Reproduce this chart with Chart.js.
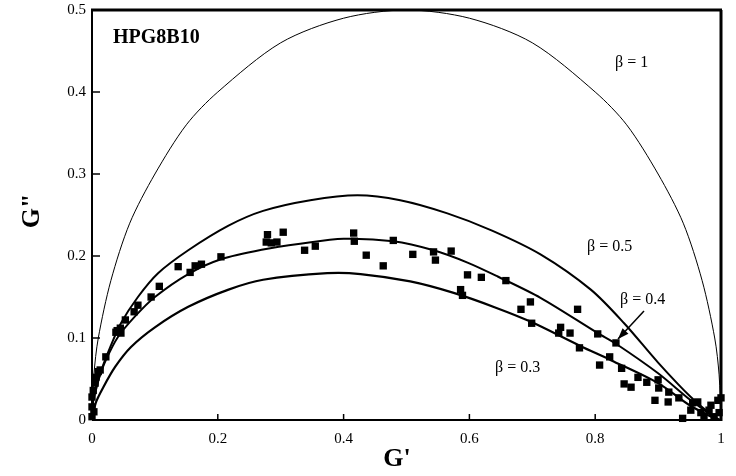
<!DOCTYPE html>
<html>
<head>
<meta charset="utf-8">
<title>HPG8B10 Cole-Cole</title>
<script src="https://cdn.jsdelivr.net/npm/chart.js@4.4.1/dist/chart.umd.min.js"></script>
<style>
html,body{margin:0;padding:0;background:#fff;}
#wrap{width:736px;height:476px;}
</style>
</head>
<body>
<div id="wrap"><canvas id="chart" width="736" height="476"></canvas></div>
<script>

// =====================================
// Data
// =====================================

const xTicks=[0,0.2,0.4,0.6,0.8,1];
const yTicks=[0,0.1,0.2,0.3,0.4,0.5];

// beta = 1 (thin arc)
const beta1Gp =[0,0.003,0.01,0.03,0.06,0.10,0.15,0.20,0.30,0.40,0.50,0.60,0.70,0.80,0.85,0.90,0.94,0.97,0.99,0.997,1];
const beta1Gpp=[0,0.055,0.10,0.17,0.24,0.30,0.36,0.40,0.46,0.49,0.50,0.49,0.46,0.40,0.36,0.30,0.24,0.17,0.10,0.055,0];

// beta = 0.5
const beta05Gp =[0,0.002,0.005,0.015,0.029,0.046,0.073,0.105,0.153,0.217,0.272,0.347,0.422,0.490,0.565,0.636,0.713,0.793,0.846,0.900,0.952,0.989,1];
const beta05Gpp=[0,0.024,0.033,0.061,0.089,0.118,0.150,0.179,0.207,0.237,0.255,0.268,0.274,0.268,0.252,0.231,0.202,0.159,0.118,0.070,0.028,0.004,0];

// beta = 0.4
const beta04Gp =[0,0.002,0.010,0.022,0.041,0.068,0.100,0.153,0.205,0.272,0.331,0.400,0.479,0.543,0.597,0.645,0.713,0.804,0.833,0.900,0.952,0.995];
const beta04Gpp=[0,0.028,0.049,0.073,0.101,0.126,0.150,0.178,0.196,0.208,0.215,0.221,0.218,0.207,0.192,0.175,0.149,0.106,0.093,0.057,0.024,0];

// beta = 0.3
const beta03Gp =[0,0.006,0.018,0.037,0.062,0.100,0.153,0.217,0.272,0.374,0.427,0.506,0.575,0.642,0.697,0.777,0.825,0.900,0.952,0.995];
const beta03Gpp=[0,0.021,0.040,0.065,0.089,0.113,0.138,0.159,0.171,0.179,0.178,0.169,0.155,0.137,0.120,0.090,0.073,0.045,0.017,0];

// measured G', G''
const measGp =[0.000,0.003,0.000,0.000,0.002,0.005,0.006,0.010,0.013,0.022,0.038,0.040,0.045,0.046,0.053,0.067,0.073,0.094,0.107,0.137,0.156,0.164,0.174,0.205,
0.279,0.277,0.285,0.294,0.304,0.338,0.355,0.416,0.417,0.436,0.463,0.479,0.510,0.543,0.546,0.571,0.597,0.619,0.586,0.589,
0.658,0.697,0.682,0.699,0.772,0.745,0.742,0.760,0.775,0.804,0.833,0.823,0.807,0.842,0.846,0.857,0.868,0.882,0.900,0.901,0.917,0.895,0.916,0.933,
0.939,0.952,0.955,0.963,0.968,0.973,0.981,0.984,0.989,0.995,0.997,1.000];
const measGpp=[0.004,0.010,0.016,0.028,0.036,0.045,0.052,0.059,0.061,0.077,0.107,0.109,0.112,0.106,0.122,0.132,0.140,0.150,0.163,0.187,0.180,0.188,0.190,0.199,
0.226,0.217,0.216,0.217,0.229,0.207,0.212,0.228,0.218,0.201,0.188,0.219,0.202,0.205,0.195,0.206,0.177,0.174,0.159,0.152,
0.170,0.144,0.135,0.118,0.135,0.113,0.106,0.106,0.088,0.105,0.094,0.077,0.067,0.063,0.044,0.040,0.052,0.046,0.049,0.039,0.034,0.024,0.022,0.027,
0.002,0.012,0.021,0.022,0.009,0.004,0.012,0.018,0.004,0.024,0.009,0.027];

// =====================================
// Helpers
// =====================================

function pairs(xs,ys){

    return xs.map((v,i)=>({x:v,y:ys[i]}));

}

function curve(xs,ys,width){

    return {
        data:pairs(xs,ys),
        showLine:true,
        borderColor:"#000",
        borderWidth:width,
        pointRadius:0,
        tension:0.3,
        fill:false
    };

}

const serif="'Liberation Serif','Times New Roman',serif";

// =====================================
// Frame, inner ticks and labels
// =====================================

const decor={

    id:"decor",

    afterDraw(chart){

        const {ctx,chartArea:a,scales:{x,y}}=chart;

        const line=(x1,y1,x2,y2)=>{
            ctx.beginPath();
            ctx.moveTo(x1,y1);
            ctx.lineTo(x2,y2);
            ctx.stroke();
        };

        ctx.save();

        ctx.strokeStyle="#000";
        ctx.fillStyle="#000";

        // frame
        ctx.lineWidth=2;
        line(a.left,a.top,a.left,a.bottom);
        line(a.left,a.bottom,a.right,a.bottom);

        ctx.lineWidth=3;
        line(a.left-1,a.top,a.right+1,a.top);
        line(a.right,a.top,a.right,a.bottom+1);

        // ticks pointing inward
        ctx.lineWidth=1.5;
        yTicks.forEach(v=>{
            const py=y.getPixelForValue(v);
            line(a.left,py,a.left+8,py);
        });
        xTicks.forEach(v=>{
            const px=x.getPixelForValue(v);
            line(px,a.bottom,px,a.bottom-6);
        });

        // sample name
        ctx.font="bold 20px "+serif;
        ctx.textAlign="left";
        ctx.textBaseline="middle";
        ctx.fillText("HPG8B10",113,38);

        // curve labels
        ctx.font="16px "+serif;
        ctx.fillText("\u03b2 = 1",615,63);
        ctx.fillText("\u03b2 = 0.5",587,247);
        ctx.fillText("\u03b2 = 0.4",620,300);
        ctx.fillText("\u03b2 = 0.3",495,368);

        // arrow to beta = 0.4 curve
        const tx=644,ty=311,hx=618,hy=339;
        ctx.lineWidth=1.5;
        line(tx,ty,hx,hy);
        const ang=Math.atan2(hy-ty,hx-tx);
        ctx.beginPath();
        ctx.moveTo(hx,hy);
        ctx.lineTo(hx-11*Math.cos(ang)+4*Math.sin(ang),hy-11*Math.sin(ang)-4*Math.cos(ang));
        ctx.lineTo(hx-11*Math.cos(ang)-4*Math.sin(ang),hy-11*Math.sin(ang)+4*Math.cos(ang));
        ctx.closePath();
        ctx.fill();

        // axis titles
        ctx.font="bold 26px "+serif;
        ctx.textAlign="center";
        ctx.fillText("G'",397,459);

        ctx.save();
        ctx.translate(32,211);
        ctx.rotate(-Math.PI/2);
        ctx.fillText("G\"",0,0);
        ctx.restore();

        ctx.restore();

    }

};

// =====================================
// Chart
// =====================================

new Chart(document.getElementById("chart"),{

    type:"scatter",

    data:{

        datasets:[

            curve(beta1Gp,beta1Gpp,1),

            curve(beta05Gp,beta05Gpp,2),

            curve(beta04Gp,beta04Gpp,2),

            curve(beta03Gp,beta03Gpp,2.2),

            {
                data:pairs(measGp,measGpp),
                pointStyle:"rect",
                pointRadius:5.2,
                backgroundColor:"#000",
                borderColor:"#000",
                borderWidth:0,
                showLine:false,
                clip:false
            }

        ]

    },

    options:{

        responsive:false,

        animation:false,

        layout:{padding:{left:0,top:10,right:15,bottom:0}},

        plugins:{
            legend:{display:false},
            tooltip:{enabled:false}
        },

        scales:{

            x:{
                type:"linear",
                min:0,
                max:1,
                afterBuildTicks:(s)=>{ s.ticks=xTicks.map(v=>({value:v})); },
                afterFit:(s)=>{ s.height=56; s.paddingRight=0; s.paddingLeft=0; },
                grid:{display:false,drawTicks:false},
                border:{display:false},
                ticks:{
                    padding:10,
                    color:"#000",
                    font:{family:serif,size:15},
                    callback:(v)=>String(v)
                }
            },

            y:{
                type:"linear",
                min:0,
                max:0.5,
                afterBuildTicks:(s)=>{ s.ticks=yTicks.map(v=>({value:v})); },
                afterFit:(s)=>{ s.width=92; s.paddingTop=0; s.paddingBottom=0; },
                grid:{display:false,drawTicks:false},
                border:{display:false},
                ticks:{
                    padding:6,
                    color:"#000",
                    font:{family:serif,size:15},
                    callback:(v)=>String(v)
                }
            }

        }

    },

    plugins:[decor]

});

</script>
</body>
</html>
